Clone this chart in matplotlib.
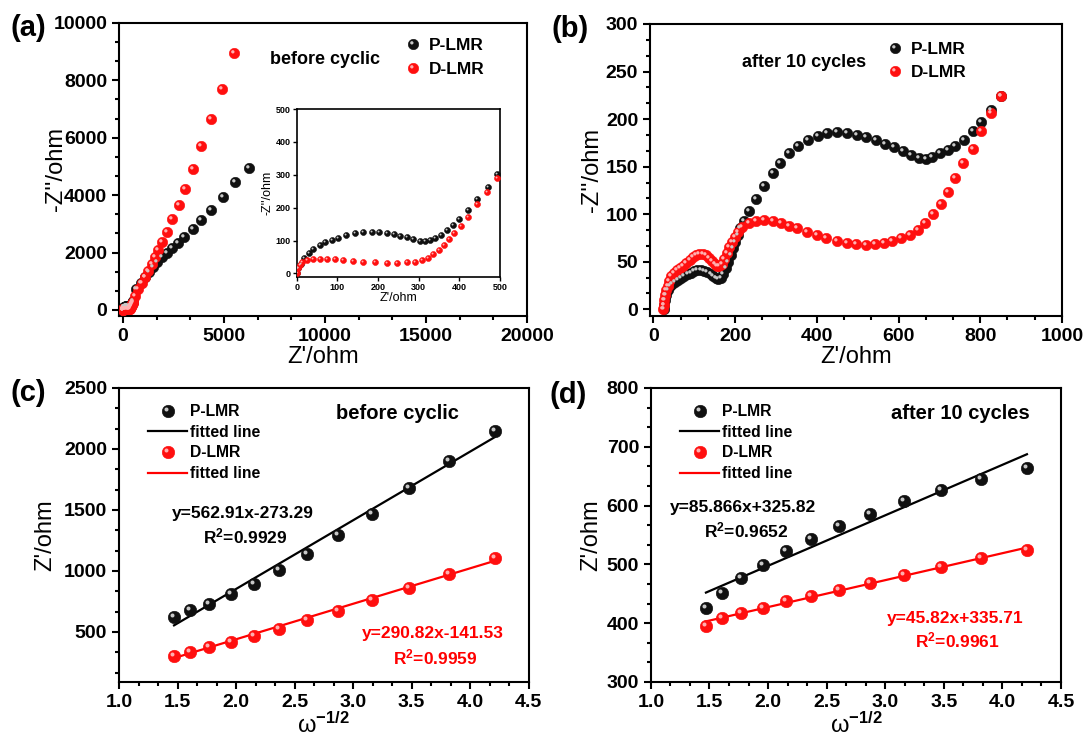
import matplotlib
matplotlib.use("Agg")
import matplotlib.pyplot as plt
from matplotlib.path import Path
from matplotlib.legend_handler import HandlerTuple
from matplotlib.ticker import MultipleLocator, AutoMinorLocator

plt.rcParams['font.family'] = ['Liberation Sans', 'DejaVu Sans']
plt.rcParams['font.weight'] = 'bold'
plt.rcParams['mathtext.fontset'] = 'custom'
plt.rcParams['mathtext.bf'] = 'Liberation Sans:bold'
plt.rcParams['mathtext.rm'] = 'Liberation Sans:bold'
plt.rcParams['mathtext.default'] = 'bf'

# ---- data ----
# (a) inset, high frequency region (Z' 0-500 ohm)
in_p_x = [0, 4, 10, 18, 29, 41, 56, 70, 86, 102, 121, 143, 164, 184, 203, 221, 238, 254, 270, 287,
          302, 316, 328, 340, 354, 369, 384, 400, 422, 444, 470, 492]
in_p_y = [0, 15, 30, 46, 61, 74, 86, 94, 101, 108.5, 117, 124, 127, 127, 127, 124, 120, 115, 109.5, 104.5,
          100, 99, 101, 108.5, 117, 132, 147, 165, 193, 226, 264, 303]
in_d_x = [0, 2, 7, 13, 25, 39, 57, 74, 94, 115, 139, 164, 193, 221, 246, 270, 291, 307, 322, 336,
          350, 363, 375, 388, 403, 422, 444, 469, 492]
in_d_y = [0, 15, 27, 35.5, 40.6, 43.6, 44.6, 44.6, 43.6, 41.6, 38.5, 35.5, 33.5, 32.5, 32.5, 33.5, 35.5, 40.6, 47.7, 57.8,
          71, 86, 103.4, 122.7, 144, 172, 210, 248.5, 289]
# (a) low frequency tail
a_p_x = [661, 875, 1093, 1292, 1491, 1705, 1918, 2152, 2415, 2699, 3032, 3444, 3857, 4354, 4935, 5566, 6250]
a_p_y = [722, 953, 1162, 1337, 1511, 1686, 1839, 1979, 2153, 2328, 2537, 2816, 3141, 3490, 3933, 4457, 4940]
a_d_x = [594, 760, 924, 1093, 1257, 1421, 1590, 1754, 1918, 2152, 2415, 2748, 3060, 3460, 3864, 4356, 4915, 5508]
a_d_y = [489, 722, 932, 1141, 1372, 1605, 1839, 2094, 2384, 2733, 3165, 3650, 4215, 4900, 5708, 6636, 7715, 8956]

# (b) after 10 cycles
b_p_x = [25, 26, 28, 31, 35, 40, 46, 53, 60, 68, 76, 84, 92, 100, 108, 116, 124, 132, 140, 147,
         153, 159, 165, 171, 177, 183, 189, 195, 201, 207, 213, 222, 235, 252, 272, 292, 310, 332, 355, 378,
         402, 426, 450, 474, 498, 521, 545, 568, 590, 611, 631, 651, 668, 682, 701, 720, 739, 761, 782, 803,
         827, 851]
b_p_y = [0, 5, 10, 15, 20, 24, 27, 29, 31, 33, 35, 37, 38, 40, 41, 41, 40, 39, 37, 35,
         33, 32, 33, 37, 43, 50, 57, 64, 71, 78, 85, 93, 103, 116, 130, 143, 154, 164, 172, 178,
         182, 185, 186, 185, 183.5, 181, 177.5, 174, 170.5, 166, 162, 159, 158, 160.5, 164, 168, 172, 178, 187, 197,
         210, 224]
b_d_x = [24, 25, 27, 29, 32, 35, 39, 44, 50, 57, 65, 73, 81, 89, 97, 105, 113, 121, 129, 137,
         144, 150, 156, 162, 168, 174, 180, 186, 192, 199, 207, 216, 235, 252, 272, 292, 312, 332, 352, 376,
         400, 423, 449, 474, 497, 521, 543, 564, 585, 607, 628, 647, 665, 684, 703, 720, 739, 759, 782, 803,
         826, 851]
b_d_y = [0, 5, 10, 15, 20, 25, 30, 35, 38, 41, 43, 46, 49, 52, 55, 57, 58, 58, 57, 54,
         51, 48, 46, 46, 48, 53, 59, 65, 71, 76, 81, 87, 91, 92.5, 93.5, 93, 91, 88, 85, 81,
         78, 75, 72, 70, 69, 68, 69, 70, 72, 75, 78, 83, 90.7, 100.6, 111, 123.5, 137.7, 153.5, 169, 187,
         206.5, 224]

# (c), (d) Z' vs w^-1/2
w = [1.47, 1.61, 1.77, 1.96, 2.15, 2.37, 2.61, 2.87, 3.16, 3.48, 3.82, 4.21]
c_p = [623, 677, 732, 808, 896, 1005, 1141, 1291, 1469, 1681, 1905, 2145]
c_d = [301, 336, 377, 418, 467, 527, 596, 669, 759, 863, 977, 1106]
d_p = [426, 451, 476, 499, 522, 543, 566, 586, 607, 627, 645, 664]
d_d = [396, 408, 417, 426, 437, 446, 457, 469, 482, 495, 511, 525]
# fitted lines (slope, intercept) as printed in the figure
fit_c_p = (562.91, -273.29)
fit_c_d = (290.82, -141.53)
fit_d_p = (85.866, 325.82)
fit_d_d = (45.82, 335.71)

BLACK, BLACK_HL = '#101010', '#c8c8c8'
RED, RED_HL = '#ff0f0f', '#ffb0b0'

# highlight marker: small circle shifted up-left, the lone moveto keeps the scale fixed
HL = Path.make_compound_path(Path([[0.5, 0.5]], [Path.MOVETO]),
                             Path.circle((-0.16, 0.16), 0.16))
TUPLE = {tuple: HandlerTuple(ndivide=1, pad=0)}


def ball(ax, x, y, color, hl, ms, z=3):
    base, = ax.plot(x, y, ls='none', marker='o', ms=ms, mfc=color, mec=color, mew=0.4, zorder=z)
    shine, = ax.plot(x, y, ls='none', marker=HL, ms=ms, mfc=hl, mec='none', zorder=z + 0.1)
    return (base, shine)


def style(ax, fs=14, lw=1.5):
    for s in ax.spines.values():
        s.set_linewidth(lw)
    ax.tick_params(which='both', direction='out', top=False, right=False, width=lw, labelsize=fs)
    ax.tick_params(which='major', length=5)
    ax.tick_params(which='minor', length=3)
    ax.xaxis.set_minor_locator(AutoMinorLocator(3))
    ax.yaxis.set_minor_locator(AutoMinorLocator(3))


def labels(ax, xl, yl, ylx):
    ax.set_xlabel(xl, fontsize=17, labelpad=1)
    ax.set_ylabel(yl, fontsize=17, va='center')
    ax.yaxis.set_label_coords(ylx, 0.5)


fig = plt.figure(figsize=(10.83, 7.4), dpi=100)

# ---------- (a) ----------
ax = fig.add_axes([0.1099, 0.573, 0.3767, 0.396])
hp = ball(ax, in_p_x + a_p_x, in_p_y + a_p_y, BLACK, BLACK_HL, 7.5)
hd = ball(ax, in_d_x + a_d_x, in_d_y + a_d_y, RED, RED_HL, 7.5)
ax.set_xlim(-200, 20000)
ax.set_ylim(-210, 10000)
ax.xaxis.set_major_locator(MultipleLocator(5000))
ax.yaxis.set_major_locator(MultipleLocator(2000))
style(ax)
labels(ax, "Z'/ohm", "-Z''/ohm", -0.155)
ax.text(10000, 8724, 'before cyclic', fontsize=13, ha='center', va='center')
ax.legend([hp, hd], ['P-LMR', 'D-LMR'], handler_map=TUPLE,
          loc='upper left', bbox_to_anchor=(0.699, 0.948), frameon=False, fontsize=12.5,
          handlelength=1.0, handletextpad=0.45, borderpad=0, borderaxespad=0, labelspacing=0.5)

ins = fig.add_axes([0.274, 0.6261, 0.1877, 0.2266])
ball(ins, in_p_x, in_p_y, BLACK, BLACK_HL, 4.3)
ball(ins, in_d_x, in_d_y, RED, RED_HL, 4.3)
ins.set_xlim(0, 500)
ins.set_ylim(-10, 500)
ins.xaxis.set_major_locator(MultipleLocator(100))
ins.yaxis.set_major_locator(MultipleLocator(100))
for s in ins.spines.values():
    s.set_linewidth(1.2)
ins.tick_params(direction='out', length=3, width=1, labelsize=6.5, pad=1.5)
ins.set_xlabel("Z'/ohm", fontsize=9, labelpad=0)
ins.set_ylabel("-Z''/ohm", fontsize=9, labelpad=1)

# ---------- (b) ----------
ax = fig.add_axes([0.6002, 0.573, 0.3804, 0.3946])
hp = ball(ax, b_p_x, b_p_y, BLACK, BLACK_HL, 7.5)
hd = ball(ax, b_d_x, b_d_y, RED, RED_HL, 7.5)
ax.set_xlim(-8, 1000)
ax.set_ylim(-7, 300)
ax.xaxis.set_major_locator(MultipleLocator(200))
ax.yaxis.set_major_locator(MultipleLocator(50))
style(ax)
labels(ax, "Z'/ohm", "-Z''/ohm", -0.14)
ax.text(368, 260, 'after 10 cycles', fontsize=13, ha='center', va='center')
ax.legend([hp, hd], ['P-LMR', 'D-LMR'], handler_map=TUPLE,
          loc='upper left', bbox_to_anchor=(0.573, 0.94), frameon=False, fontsize=12.5,
          handlelength=1.0, handletextpad=0.45, borderpad=0, borderaxespad=0, labelspacing=0.5)


# ---------- (c) and (d) ----------
def wplot(rect, yp, yd, fp, fd, ylim, ymaj, ylx, title, tpos, eqp, eqd):
    ax = fig.add_axes(rect)
    xs = [min(w), max(w)]
    lp, = ax.plot(xs, [fp[0] * v + fp[1] for v in xs], color='black', lw=1.6, zorder=2)
    ld, = ax.plot(xs, [fd[0] * v + fd[1] for v in xs], color='red', lw=1.6, zorder=2)
    hp = ball(ax, w, yp, BLACK, BLACK_HL, 9)
    hd = ball(ax, w, yd, RED, RED_HL, 9)
    ax.set_xlim(1.0, 4.5)
    ax.set_ylim(*ylim)
    ax.xaxis.set_major_locator(MultipleLocator(0.5))
    ax.yaxis.set_major_locator(MultipleLocator(ymaj))
    style(ax)
    labels(ax, 'ω$^{-1/2}$', "Z'/ohm", ylx)
    ax.text(tpos[0], tpos[1], title, fontsize=14.5, ha='center', va='center')
    sp = '+' if fp[1] >= 0 else '-'
    sd = '+' if fd[1] >= 0 else '-'
    ax.text(eqp[0], eqp[1], 'y=%s%s%s' % (eqp[2], sp, eqp[3]), fontsize=12.5, ha='center', va='center')
    ax.text(eqp[0] + 0.02, eqp[4], 'R$^2$=%s' % eqp[5], fontsize=12.5, ha='center', va='center')
    ax.text(eqd[0], eqd[1], 'y=%s%s%s' % (eqd[2], sd, eqd[3]), fontsize=12.5, ha='center', va='center', color='red')
    ax.text(eqd[0] + 0.02, eqd[4], 'R$^2$=%s' % eqd[5], fontsize=12.5, ha='center', va='center', color='red')
    ax.legend([hp, lp, hd, ld], ['P-LMR', 'fitted line', 'D-LMR', 'fitted line'], handler_map=TUPLE,
              loc='upper left', bbox_to_anchor=(0.071, 0.945), frameon=False, fontsize=11.3,
              handlelength=2.5, handletextpad=0.15, borderpad=0, borderaxespad=0, labelspacing=0.36)
    return ax


wplot([0.1099, 0.0784, 0.3782, 0.3973], c_p, c_d, fit_c_p, fit_c_d, (90, 2500), 500, -0.179,
      'before cyclic', (3.38, 2287),
      (2.06, 1469, '562.91x', '273.29', 1286, '0.9929'),
      (3.68, 486, '290.82x', '141.53', 295, '0.9959'))
wplot([0.601, 0.0784, 0.3786, 0.3973], d_p, d_d, fit_d_p, fit_d_d, (300, 800), 100, -0.146,
      'after 10 cycles', (3.64, 756),
      (1.79, 597, '85.866x', '325.82', 558, '0.9652'),
      (3.60, 408, '45.82x', '335.71', 371, '0.9961'))

for lab, x, y in [('(a)', 0.0265, 0.962), ('(b)', 0.526, 0.961), ('(c)', 0.0265, 0.469), ('(d)', 0.525, 0.466)]:
    fig.text(x, y, lab, fontsize=21, ha='center', va='center')

fig.savefig('out.png', dpi=100)
